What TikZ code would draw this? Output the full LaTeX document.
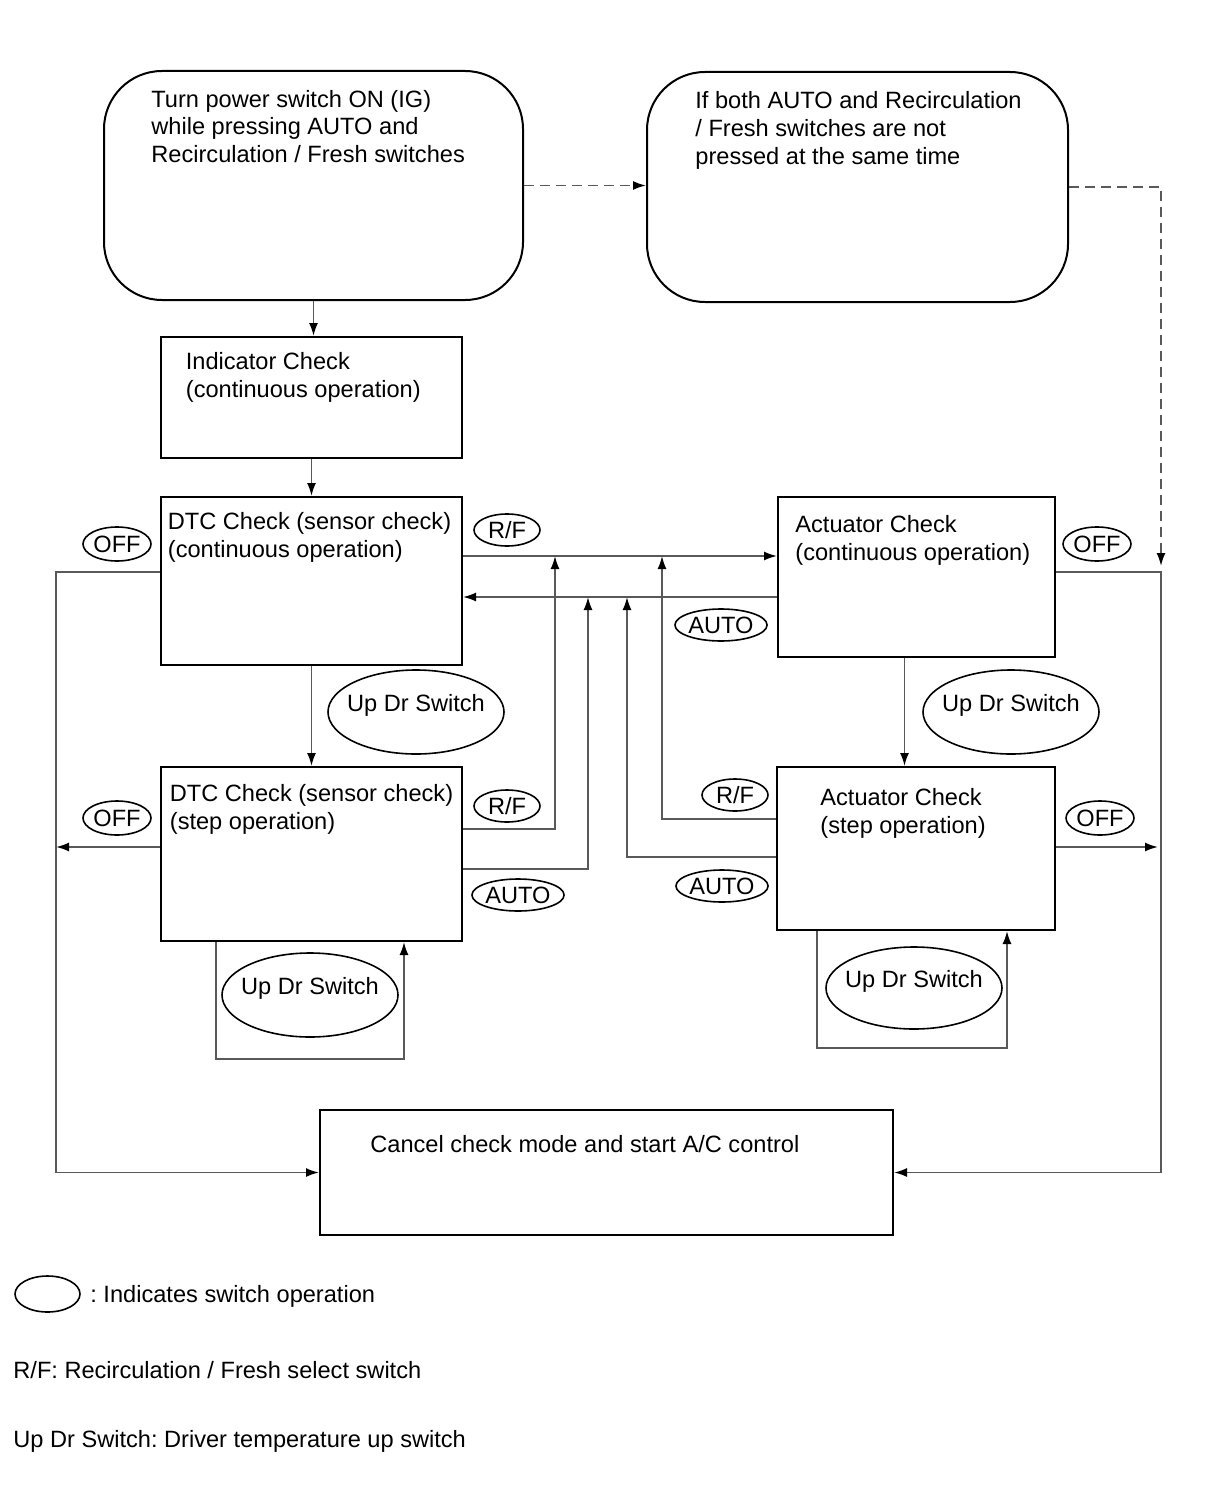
\documentclass[tikz,border=0pt]{standalone}
\usepackage{fontspec}
\setmainfont{Liberation Sans}
\usetikzlibrary{shapes.geometric, arrows.meta, calc, positioning}
\newcommand{\diagfont}{\fontsize{11.8}{14}\selectfont}
\frenchspacing
\begin{document}
\begin{tikzpicture}[x=0.5pt, y=-0.5pt, font=\diagfont,
    terminal/.style={draw, line width=1pt, rectangle, rounded corners=29pt, inner sep=0pt},
    box/.style={draw, line width=1pt, rectangle, inner sep=0pt},
    boxtext/.style={anchor=north west, align=left, inner sep=0pt},
    switch/.style={draw, line width=0.8pt, ellipse, inner sep=0pt},
    updr/.style={switch, minimum width=88pt, minimum height=42pt, text height=8.5pt, text depth=9pt},
    conn/.style={draw=black!65, line width=0.9pt, -{Latex[length=6.5pt, width=4.5pt, black]}},
    dconn/.style={conn, dash pattern=on 5pt off 3pt}]

    \path[use as bounding box, fill=white] (0,0) rectangle (1210,1498);

    % Nodes
    \node (start) [terminal, minimum width=209.5pt, minimum height=114.5pt] at (313.5,185.5) {};
    \node (alt) [terminal, minimum width=210.5pt, minimum height=115pt] at (857.5,187) {};
    \node (indicator) [box, minimum width=150.5pt, minimum height=60.5pt] at (311.5,397.5) {};
    \node (dtc1) [box, minimum width=150.5pt, minimum height=84pt] at (311.5,581) {};
    \node (act1) [box, minimum width=138.5pt, minimum height=80pt] at (916.5,577) {};
    \node (dtc2) [box, minimum width=150.5pt, minimum height=87pt] at (311.5,854) {};
    \node (act2) [box, minimum width=139pt, minimum height=81.5pt] at (916,848.5) {};
    \node (cancel) [box, minimum width=286.5pt, minimum height=62.5pt] at (606.5,1172.5) {};

    % Texts
    \node (start text) [boxtext] at ($(start.north west)+(48,19.5)$) {Turn power switch ON (IG)\\while pressing AUTO and\\Recirculation / Fresh switches};
    \node (alt text) [boxtext] at ($(alt.north west)+(49,20.5)$) {If both AUTO and Recirculation\\/ Fresh switches are not\\pressed at the same time};
    \node (indicator text) [boxtext] at ($(indicator.north west)+(25.5,15.5)$) {Indicator Check\\(continuous operation)};
    \node (dtc1 text) [boxtext] at ($(dtc1.north west)+(7.5,15.5)$) {DTC Check (sensor check)\\(continuous operation)};
    \node (act1 text) [boxtext] at ($(act1.north west)+(18,18.5)$) {Actuator Check\\(continuous operation)};
    \node (dtc2 text) [boxtext] at ($(dtc2.north west)+(9.5,17.5)$) {DTC Check (sensor check)\\(step operation)};
    \node (act2 text) [boxtext] at ($(act2.north west)+(44,21.5)$) {Actuator Check\\(step operation)};
    \node (cancel text) [boxtext] at ($(cancel.north west)+(51,25.5)$) {Cancel check mode and start A/C control};

    % Switches
    \node (off dtc1) [switch, minimum width=34pt, minimum height=17pt] at (117,544) {OFF};
    \node (off dtc2) [switch, minimum width=34pt, minimum height=17pt] at (117,818) {OFF};
    \node (off act1) [switch, minimum width=34pt, minimum height=17pt] at (1097,544) {OFF};
    \node (off act2) [switch, minimum width=34pt, minimum height=17pt] at (1100,818) {OFF};
    \node (rf dtc1) [switch, minimum width=33pt, minimum height=16pt] at (507,530) {R/F};
    \node (rf dtc2) [switch, minimum width=33pt, minimum height=16pt] at (507,806) {R/F};
    \node (rf act2) [switch, minimum width=33pt, minimum height=16pt] at (735,795) {R/F};
    \node (auto act1) [switch, minimum width=45pt, minimum height=16pt] at (721,625) {AUTO};
    \node (auto dtc2) [switch, minimum width=45pt, minimum height=16pt] at (518,895) {AUTO};
    \node (auto act2) [switch, minimum width=45pt, minimum height=16pt] at (722,886) {AUTO};
    \node (updr dtc1) [updr] at (416,712) {\makebox[0pt]{Up Dr Switch}};
    \node (updr act1) [updr] at (1011,712) {\makebox[0pt]{Up Dr Switch}};
    \node (updr dtc2) [updr] at (310,995) {\makebox[0pt]{Up Dr Switch}};
    \node (updr act2) [updr, minimum height=41pt] at (914,988) {\makebox[0pt]{Up Dr Switch}};

    % Legend
    \node (legend sw) [switch, minimum width=32.5pt, minimum height=18pt] at (47.5,1294) {};
    \node (legend sw text) [anchor=base west, inner sep=0pt] at (90,1302.5) {: Indicates switch operation};
    \node (legend rf) [anchor=base west, inner sep=0pt] at (13,1378.5) {R/F: Recirculation / Fresh select switch};
    \node (legend updr) [anchor=base west, inner sep=0pt] at (13,1447.5) {Up Dr Switch: Driver temperature up switch};

    % Arrows
    \draw [dconn] (start.east) -- (start.east -| alt.west);
    \draw [dconn] (alt.east) -| ($(act1.north east)+(105,70)$);
    \draw [conn] (start.south) -- (start.south |- indicator.north);
    \draw [conn] (indicator.south) -- (dtc1.north);
    \draw [conn] (dtc1.south) -- (dtc2.north);
    \draw [conn] ([xshift=-6pt]act1.south) -- ([xshift=-6pt]act1.south |- act2.north);

    % R/F and AUTO
    \draw [conn] ($(dtc1.north east)+(0,60)$) -- ($(act1.north west)+(0,60)$);
    \draw [conn] ($(act1.north west)+(0,101)$) -- ($(dtc1.north east)+(0,101)$);
    \draw [conn] ($(dtc2.north east)+(0,63)$) -| ($(dtc1.north east)+(92,60)$);
    \draw [conn] ($(dtc2.north east)+(0,103)$) -| ($(dtc1.north east)+(125,101)$);
    \draw [conn] ($(act2.north west)+(0,53)$) -| ($(act1.north west)+(-115,60)$);
    \draw [conn] ($(act2.north west)+(0,91)$) -| ($(act1.north west)+(-150,101)$);

    % Up Dr Switch loops
    \draw [conn] ($(dtc2.south west)+(56,0)$) -- ++(0,117) -| ($(dtc2.south west)+(244,0)$);
    \draw [conn] ($(act2.south west)+(41,0)$) -- ++(0,117) -| ($(act2.south west)+(231,0)$);

    % OFF
    \draw [conn] ($(dtc1.north west)+(0,76)$) -| ($(cancel.west)+(-263,0)$) -- (cancel.west);
    \draw [conn] ($(dtc2.north west)+(0,81)$) -- ++(-104,0);
    \draw [conn] ($(act1.north east)+(0,76)$) -| ($(cancel.east)+(267,0)$) -- (cancel.east);
    \draw [conn] ($(act2.north east)+(0,81)$) -- ++(102,0);

\end{tikzpicture}
\end{document}
